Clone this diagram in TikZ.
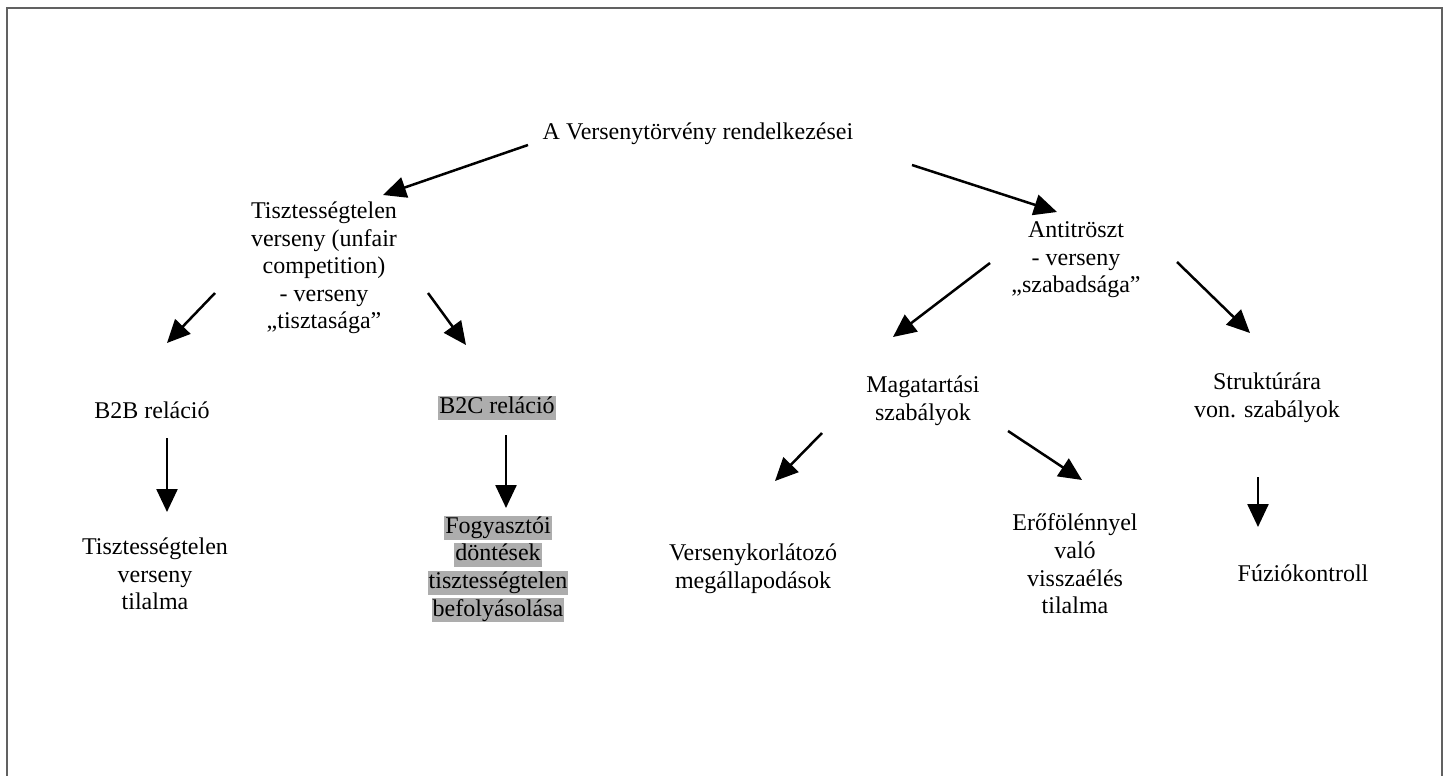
\documentclass[tikz,border=0pt]{standalone}
\usepackage{fontspec}
\setmainfont{Liberation Serif}
\usetikzlibrary{arrows.meta}
\definecolor{hl}{gray}{0.68}
\definecolor{framegray}{gray}{0.38}
\newcommand{\hlb}[1]{{\setlength{\fboxsep}{0.5pt}\colorbox{hl}{\rule[-2.4pt]{0pt}{10.3pt}#1}}}
\begin{document}
\begin{tikzpicture}[x=0.5pt,y=-0.5pt,
  lbl/.style={align=center,inner sep=0pt,font=\fontsize{12pt}{13.8pt}\selectfont},
  arr/.style={line width=1.25pt,-{Triangle[length=11.5pt,width=10.5pt]}}]
\useasboundingbox (0,0) rectangle (1448,776);
\draw[framegray,line width=1.2pt] (7,790) -- (7,8) -- (1442,8) -- (1442,790);

\node[lbl] (root) at (698,134) {A Versenytörvény rendelkezései};
\node[lbl] (tiszt) at (324,268) {Tisztességtelen\\verseny (unfair\\competition)\\- verseny\\„tisztasága”};
\node[lbl] (anti) at (1076,260) {Antitröszt\\- verseny\\„szabadsága”};
\node[lbl] (b2b) at (152,410) {B2B reláció};
\node[lbl] (tilalom) at (155,574) {Tisztességtelen\\verseny\\tilalma};
\node[lbl] (b2c) at (497,408) {\hlb{B2C reláció}};
\node[lbl] (fogy) at (498,569) {\hlb{Fogyasztói}\\\hlb{döntések}\\\hlb{tisztességtelen}\\\hlb{befolyásolása}};
\node[lbl] (maga) at (923,401) {Magatartási\\szabályok};
\node[lbl] (strukt) at (1267,398) {Struktúrára\\von. szabályok};
\node[lbl] (vk) at (753,569) {Versenykorlátozó\\megállapodások};
\node[lbl] (ero) at (1075,564) {Erőfölénnyel\\való\\visszaélés\\tilalma};
\node[lbl] (fuzio) at (1303,573) {Fúziókontroll};

% arrow end points
\coordinate (a1s) at (528,145); \coordinate (a1e) at (383,195);
\coordinate (a2s) at (912,165); \coordinate (a2e) at (1057,212);
\coordinate (a3s) at (215,293); \coordinate (a3e) at (167,343);
\coordinate (a4s) at (428,293); \coordinate (a4e) at (466,345);
\coordinate (a5s) at (167,438); \coordinate (a5e) at (167,512);
\coordinate (a6s) at (506,435); \coordinate (a6e) at (506,508);
\coordinate (a7s) at (990,263); \coordinate (a7e) at (893,337);
\coordinate (a8s) at (1177,262); \coordinate (a8e) at (1250,333);
\coordinate (a9s) at (822,433); \coordinate (a9e) at (775,481);
\coordinate (a10s) at (1008,431); \coordinate (a10e) at (1082,480);
\coordinate (a11s) at (1258,477); \coordinate (a11e) at (1258,527);

\draw[arr] (a1s) -- (a1e);
\draw[arr] (a2s) -- (a2e);
\draw[arr] (a3s) -- (a3e);
\draw[arr] (a4s) -- (a4e);
\draw[arr] (a5s) -- (a5e);
\draw[arr] (a6s) -- (a6e);
\draw[arr] (a7s) -- (a7e);
\draw[arr] (a8s) -- (a8e);
\draw[arr] (a9s) -- (a9e);
\draw[arr] (a10s) -- (a10e);
\draw[arr] (a11s) -- (a11e);
\end{tikzpicture}
\end{document}
